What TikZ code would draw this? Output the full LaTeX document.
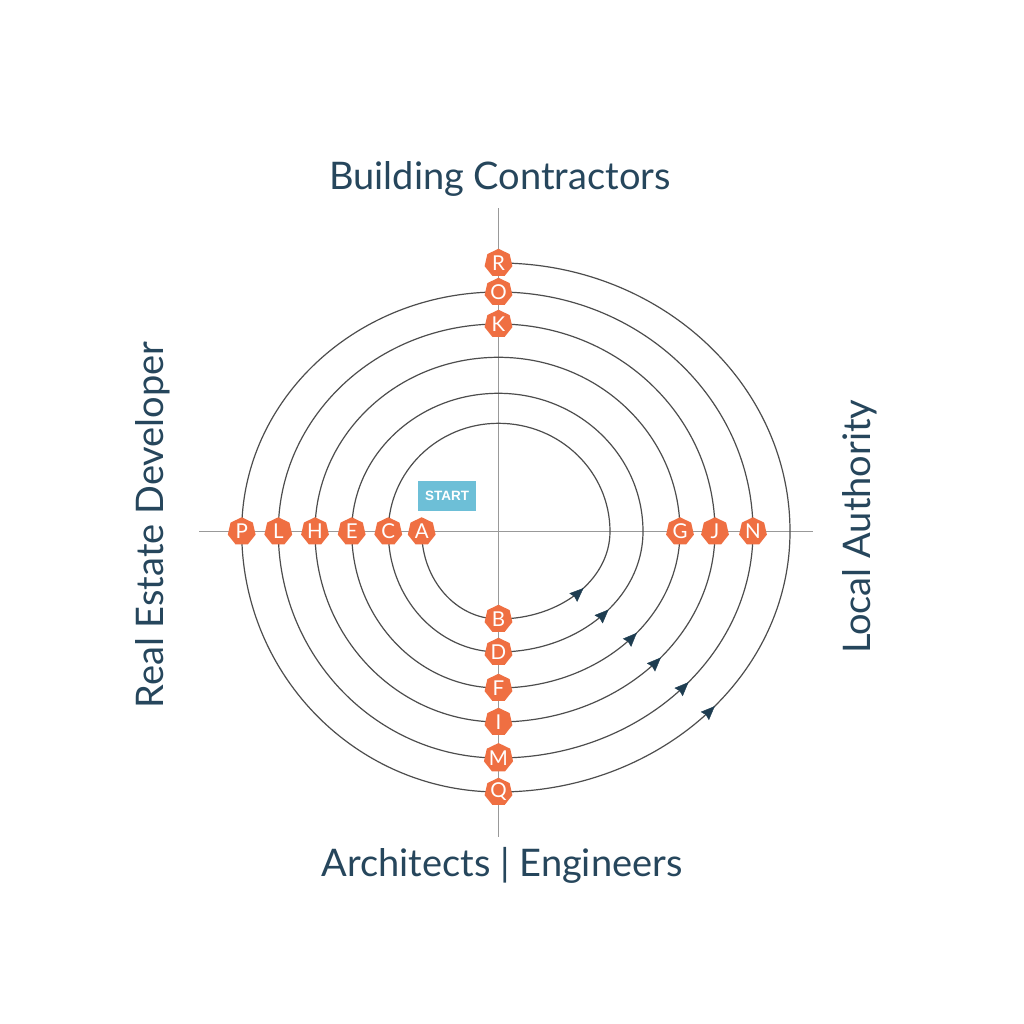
\documentclass[tikz,border=0pt]{standalone}
\usepackage{fontspec}
\setmainfont{Lato}
\newfontfamily\arialfont{Liberation Sans}
\usetikzlibrary{shapes.geometric,arrows.meta,decorations.markings,backgrounds}
\definecolor{navy}{HTML}{26465C}
\definecolor{orng}{HTML}{EF6F42}
\definecolor{arrowc}{HTML}{1E3D51}
\definecolor{startc}{HTML}{6DBFD7}
\definecolor{spiralc}{HTML}{4D4D4D}
\definecolor{axisc}{HTML}{999999}
\tikzset{
  stagenode/.style={regular polygon, regular polygon sides=7, minimum size=28.5pt, inner sep=0pt, fill=orng, text=white, font=\fontsize{20.5}{20.5}\selectfont},
  spiralline/.style={draw=spiralc, line width=1.2pt},
  axisline/.style={draw=axisc, line width=0.9pt},
  sidelabel/.style={text=navy, font=\fontsize{38}{42}\selectfont, inner sep=0pt, anchor=base},
  flowarrow/.style={decoration={markings, mark=at position #1 with {\arrow{Stealth[length=14pt,width=11.5pt,inset=1.5pt,color=arrowc]}}}, postaction={decorate}},
  startbox/.style={fill=startc, text=white, minimum width=58pt, minimum height=30pt, inner sep=0pt, font=\arialfont\bfseries\fontsize{13.5}{13.5}\selectfont}
}
\begin{document}
\begin{tikzpicture}[x=1pt,y=1pt]
\useasboundingbox (-498.5,-492.5) rectangle (525.5,531.5);
% labels
\node[sidelabel] (top) at (1.5,341.5) {Building Contractors};
\node[sidelabel] (bottom) at (3.5,-344.5) {Architects | Engineers};
\node[sidelabel, rotate=90] (left) at (-335.2,6.5) {Real Estate Developer};
\node[sidelabel, rotate=90] (right) at (371.5,4.8) {Local Authority};
% start box
\node[startbox] (start) at (-51.5,35.8) {START};
% stage nodes
\node[stagenode] (A) at (-76.8,0) {A};
\node[stagenode] (C) at (-110.2,0) {C};
\node[stagenode] (E) at (-146.8,0) {E};
\node[stagenode] (H) at (-183.5,0) {H};
\node[stagenode] (L) at (-220.2,0) {L};
\node[stagenode] (P) at (-256.8,0) {P};
\node[stagenode] (B) at (0,-87.5) {B};
\node[stagenode] (D) at (0,-120.5) {D};
\node[stagenode] (F) at (0,-156.5) {F};
\node[stagenode] (I) at (0,-190.5) {I};
\node[stagenode] (M) at (0,-226.5) {M};
\node[stagenode] (Q) at (0,-260.5) {Q};
\node[stagenode] (G) at (181.5,0) {G};
\node[stagenode] (J) at (216.5,0) {J};
\node[stagenode] (N) at (254.5,0) {N};
\node[stagenode] (K) at (0,207.5) {K};
\node[stagenode] (O) at (0,239.5) {O};
\node[stagenode] (R) at (0,268.5) {R};
% axis ends
\coordinate (hl) at (-299.2,0);
\coordinate (hr) at (314.2,0);
\coordinate (vb) at (0,-305.2);
\coordinate (vt) at (0,323.2);
\begin{scope}[on background layer]
\fill[white] (-498.5,-492.5) rectangle (525.5,531.5);
\draw[axisline] (hl) -- (hr);
\draw[axisline] (vb) -- (vt);
\draw[spiralline] (A.center)
  arc[start angle=180, end angle=270, x radius=76.8pt, y radius=87.5pt]
  arc[start angle=270, end angle=360, x radius=111.5pt, y radius=87.5pt]
  arc[start angle=0, end angle=90, x radius=111.5pt, y radius=108.2pt]
  arc[start angle=90, end angle=180, x radius=110.2pt, y radius=108.2pt]
  arc[start angle=180, end angle=270, x radius=110.2pt, y radius=120.5pt]
  arc[start angle=270, end angle=360, x radius=144.5pt, y radius=120.5pt]
  arc[start angle=0, end angle=90, x radius=144.5pt, y radius=138.2pt]
  arc[start angle=90, end angle=180, x radius=146.8pt, y radius=138.2pt]
  arc[start angle=180, end angle=270, x radius=146.8pt, y radius=156.5pt]
  arc[start angle=270, end angle=360, x radius=181.5pt, y radius=156.5pt]
  arc[start angle=0, end angle=90, x radius=181.5pt, y radius=174.2pt]
  arc[start angle=90, end angle=180, x radius=183.5pt, y radius=174.2pt]
  arc[start angle=180, end angle=270, x radius=183.5pt, y radius=190.5pt]
  arc[start angle=270, end angle=360, x radius=216.5pt, y radius=190.5pt]
  arc[start angle=0, end angle=90, x radius=216.5pt, y radius=207.5pt]
  arc[start angle=90, end angle=180, x radius=220.2pt, y radius=207.5pt]
  arc[start angle=180, end angle=270, x radius=220.2pt, y radius=226.5pt]
  arc[start angle=270, end angle=360, x radius=254.5pt, y radius=226.5pt]
  arc[start angle=0, end angle=90, x radius=254.5pt, y radius=239.5pt]
  arc[start angle=90, end angle=180, x radius=256.8pt, y radius=239.5pt]
  arc[start angle=180, end angle=270, x radius=256.8pt, y radius=260.5pt]
  arc[start angle=270, end angle=360, x radius=291.5pt, y radius=260.5pt]
  arc[start angle=0, end angle=90, x radius=291.5pt, y radius=268.5pt];
\end{scope}
% direction arrows
\path[flowarrow=0.59] (B.center) arc[start angle=270, end angle=360, x radius=111.5pt, y radius=87.5pt];
\path[flowarrow=0.58] (D.center) arc[start angle=270, end angle=360, x radius=144.5pt, y radius=120.5pt];
\path[flowarrow=0.575] (F.center) arc[start angle=270, end angle=360, x radius=181.5pt, y radius=156.5pt];
\path[flowarrow=0.56] (I.center) arc[start angle=270, end angle=360, x radius=216.5pt, y radius=190.5pt];
\path[flowarrow=0.555] (M.center) arc[start angle=270, end angle=360, x radius=254.5pt, y radius=226.5pt];
\path[flowarrow=0.55] (Q.center) arc[start angle=270, end angle=360, x radius=291.5pt, y radius=260.5pt];
\end{tikzpicture}
\end{document}
